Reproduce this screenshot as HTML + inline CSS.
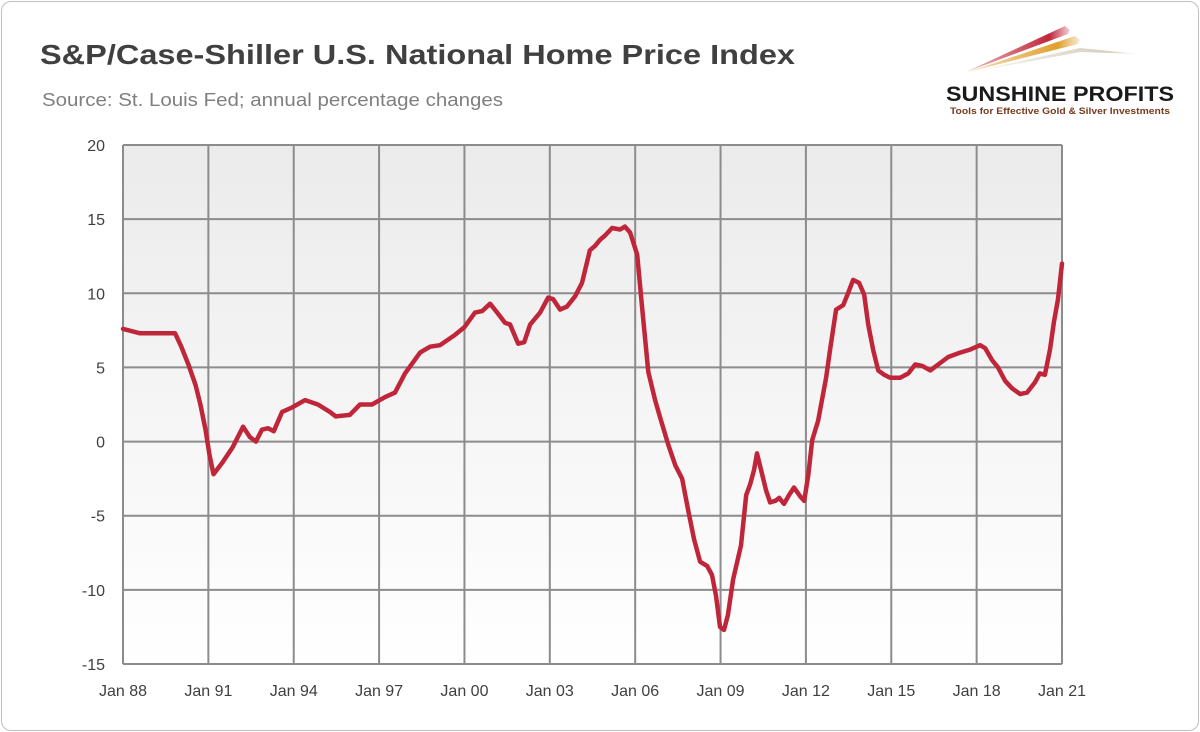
<!DOCTYPE html>
<html><head><meta charset="utf-8"><style>
html,body{margin:0;padding:0;background:#fff;}
body{width:1200px;height:732px;overflow:hidden;font-family:"Liberation Sans",sans-serif;}
#card{position:absolute;left:1px;top:1px;width:1196px;height:728px;border:1px solid #bfbfbf;border-radius:10px;background:#fff;}
</style></head><body>
<div id="card"></div>
<svg id="chart" width="1200" height="732" style="position:absolute;left:0;top:0">
<defs>
<linearGradient id="bg" x1="0" y1="0" x2="0" y2="1"><stop offset="0" stop-color="#ebebeb"/><stop offset="1" stop-color="#ffffff"/></linearGradient>
<linearGradient id="s1" x1="0" x2="1"><stop offset="0" stop-color="#c0263a" stop-opacity="0.3"/><stop offset="0.8" stop-color="#c0263a"/><stop offset="1" stop-color="#c0263a" stop-opacity="0.2"/></linearGradient>
<linearGradient id="s2" x1="0" x2="1"><stop offset="0" stop-color="#e0a030" stop-opacity="0.3"/><stop offset="0.8" stop-color="#e0a030"/><stop offset="1" stop-color="#e0a030" stop-opacity="0.2"/></linearGradient>
<linearGradient id="s3" x1="0" x2="1"><stop offset="0" stop-color="#d8d0c0" stop-opacity="0.2"/><stop offset="0.8" stop-color="#d8d0c0"/><stop offset="1" stop-color="#d8d0c0" stop-opacity="0.1"/></linearGradient>
</defs>
<text x="40" y="64" font-size="28" font-weight="bold" fill="#404040" textLength="755" lengthAdjust="spacingAndGlyphs">S&amp;P/Case-Shiller U.S. National Home Price Index</text>
<text x="42" y="106" font-size="18" fill="#7f7f7f" textLength="461" lengthAdjust="spacingAndGlyphs">Source: St. Louis Fed; annual percentage changes</text>
<g>
<polygon points="966,72 1065,26 1070,30 1068,34" fill="url(#s1)"/>
<polygon points="968,72 1075,36 1080,40 1078,44" fill="url(#s2)"/>
<polygon points="972,72 1080,48 1140,54 1080,52" fill="url(#s3)"/>
<text x="946" y="101" font-size="21" font-weight="bold" fill="#1a1a1a" textLength="228" lengthAdjust="spacingAndGlyphs">SUNSHINE PROFITS</text>
<text x="950" y="114" font-size="9.5" font-weight="bold" fill="#7a3a20" textLength="220" lengthAdjust="spacingAndGlyphs">Tools for Effective Gold &amp; Silver Investments</text>
</g>
<rect id="plotbg" x="123" y="145" width="939" height="519" fill="url(#bg)"/>
<g id="grid"></g><g id="labels"></g><g id="series"></g>
</svg>
<script>
const years=[1988.0,1988.6,1989.3,1989.83,1990.05,1990.3,1990.55,1990.72,1990.9,1991.04,1991.18,1991.5,1991.85,1992.22,1992.46,1992.67,1992.88,1993.1,1993.3,1993.59,1993.94,1994.4,1994.85,1995.27,1995.48,1995.97,1996.33,1996.75,1997.21,1997.56,1997.91,1998.44,1998.79,1999.14,1999.67,1999.99,2000.37,2000.62,2000.9,2001.15,2001.43,2001.6,2001.89,2002.1,2002.31,2002.66,2002.94,2003.12,2003.36,2003.6,2003.89,2004.13,2004.41,2004.59,2004.76,2004.94,2005.19,2005.47,2005.64,2005.82,2006.07,2006.25,2006.46,2006.7,2006.88,2007.16,2007.41,2007.65,2007.86,2008.07,2008.28,2008.53,2008.7,2008.84,2008.98,2009.12,2009.26,2009.44,2009.72,2009.9,2010.04,2010.18,2010.28,2010.46,2010.6,2010.74,2010.92,2011.06,2011.23,2011.41,2011.58,2011.8,2011.94,2012.08,2012.22,2012.43,2012.71,2012.85,2013.06,2013.31,2013.48,2013.66,2013.87,2014.05,2014.19,2014.36,2014.54,2014.75,2014.96,2015.31,2015.6,2015.84,2016.09,2016.37,2016.72,2017.0,2017.42,2017.77,2018.12,2018.3,2018.54,2018.75,2019.0,2019.24,2019.53,2019.77,2020.05,2020.22,2020.4,2020.58,2020.72,2020.86,2021.0];
const values=[7.6,7.3,7.3,7.3,6.4,5.2,3.8,2.5,0.8,-0.9,-2.2,-1.4,-0.4,1.0,0.3,0.0,0.8,0.9,0.7,2.0,2.3,2.8,2.5,2.0,1.7,1.8,2.5,2.5,3.0,3.3,4.6,6.0,6.4,6.5,7.2,7.7,8.7,8.8,9.3,8.7,8.0,7.9,6.6,6.7,7.9,8.7,9.7,9.6,8.9,9.1,9.8,10.7,12.9,13.2,13.6,13.9,14.4,14.3,14.5,14.1,12.6,8.9,4.7,2.8,1.6,-0.2,-1.6,-2.5,-4.6,-6.6,-8.1,-8.4,-9.0,-10.4,-12.5,-12.7,-11.7,-9.3,-7.0,-3.6,-2.9,-1.9,-0.8,-2.2,-3.3,-4.1,-4.0,-3.8,-4.2,-3.6,-3.1,-3.7,-4.0,-2.3,0.1,1.4,4.3,6.2,8.9,9.2,10.0,10.9,10.7,9.9,7.9,6.2,4.8,4.5,4.3,4.3,4.6,5.2,5.1,4.8,5.3,5.7,6.0,6.2,6.5,6.3,5.5,5.0,4.1,3.6,3.2,3.3,4.0,4.6,4.5,6.2,8.1,9.6,12.0];
const yTicks=[20,15,10,5,0,-5,-10,-15];
const xTickYears=[1988,1991,1994,1997,2000,2003,2006,2009,2012,2015,2018,2021];
const xTickLabels=["Jan 88","Jan 91","Jan 94","Jan 97","Jan 00","Jan 03","Jan 06","Jan 09","Jan 12","Jan 15","Jan 18","Jan 21"];
const NS="http://www.w3.org/2000/svg";
const L=123,R=1062,T=145,B=664;
function xs(v){return L+(v-1988)/(2021-1988)*(R-L);}
function ys(v){return T+(20-v)/35*(B-T);}
const grid=document.getElementById('grid'),labels=document.getElementById('labels'),series=document.getElementById('series');
yTicks.forEach(t=>{
 const l=document.createElementNS(NS,'line');
 l.setAttribute('x1',L);l.setAttribute('x2',R);l.setAttribute('y1',ys(t));l.setAttribute('y2',ys(t));
 l.setAttribute('stroke','#8c8c8c');l.setAttribute('stroke-width','2');
 
 
 grid.appendChild(l);
 const tx=document.createElementNS(NS,'text');
 tx.setAttribute('x',105);tx.setAttribute('y',ys(t)+6);tx.setAttribute('text-anchor','end');
 tx.setAttribute('font-size','16');tx.setAttribute('fill','#404040');tx.textContent=t;
 
 
 labels.appendChild(tx);
});
xTickYears.forEach((yr,i)=>{
 const l=document.createElementNS(NS,'line');
 l.setAttribute('x1',xs(yr));l.setAttribute('x2',xs(yr));l.setAttribute('y1',T);l.setAttribute('y2',B);
 l.setAttribute('stroke','#8c8c8c');l.setAttribute('stroke-width','2');
 
 
 grid.appendChild(l);
 const tx=document.createElementNS(NS,'text');
 tx.setAttribute('x',xs(yr));tx.setAttribute('y',696);tx.setAttribute('text-anchor','middle');
 tx.setAttribute('font-size','16');tx.setAttribute('fill','#404040');tx.textContent=xTickLabels[i];
 
 
 labels.appendChild(tx);
});
const p=document.createElementNS(NS,'polyline');
p.setAttribute('points',years.map((y,i)=>xs(y).toFixed(1)+','+ys(values[i]).toFixed(1)).join(' '));
p.setAttribute('fill','none');p.setAttribute('stroke','#c0263a');p.setAttribute('stroke-width','4.5');
p.setAttribute('stroke-linejoin','round');p.setAttribute('stroke-linecap','round');


series.appendChild(p);
</script>
</body></html>
